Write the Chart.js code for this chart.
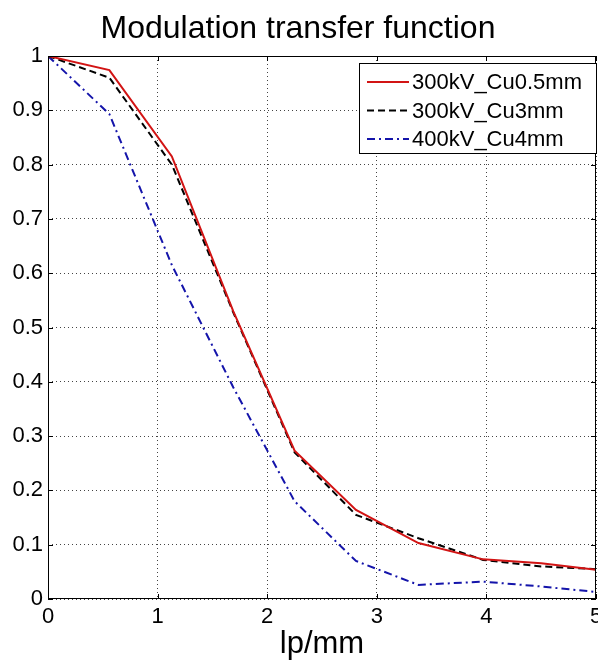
<!DOCTYPE html>
<html>
<head>
<meta charset="utf-8">
<title>Modulation transfer function</title>
<script src="https://cdn.jsdelivr.net/npm/chart.js@4/dist/chart.umd.min.js"></script>
<style>
  html, body { margin: 0; padding: 0; background: #fff; }
  #wrap { width: 598px; height: 663px; position: relative; }
</style>
</head>
<body>
<div id="wrap"><canvas id="mtf"></canvas></div>
<script>
// values (lp/mm, MTF)
const freqs = [0, 0.56, 1.13, 1.69, 2.25, 2.81, 3.38, 3.97, 4.5, 5.0];
const cu05 = [1.0, 0.974, 0.815, 0.53, 0.273, 0.164, 0.103, 0.073, 0.066, 0.054];
const cu3 = [1.0, 0.96, 0.80, 0.528, 0.27, 0.155, 0.112, 0.072, 0.06, 0.055];
const cu4 = [1.0, 0.893, 0.615, 0.39, 0.18, 0.07, 0.026, 0.032, 0.023, 0.013];
const seriesNames = ['300kV_Cu0.5mm', '300kV_Cu3mm', '400kV_Cu4mm'];
const xTicks = [0, 1, 2, 3, 4, 5];

const FONT = '"Liberation Sans", Arial, sans-serif';

function points(ys) {
  return freqs.map((x, i) => ({ x: x, y: ys[i] }));
}

function series(label, ys, color, dash) {
  return {
    label: label,
    data: points(ys),
    borderColor: color,
    borderWidth: 2,
    borderDash: dash,
    pointRadius: 0,
    tension: 0,
    fill: false
  };
}

// matlab style box, inward ticks and legend
const axesBox = {
  id: 'axesBox',
  afterDraw(chart) {
    const { ctx, chartArea: a, scales } = chart;
    ctx.save();
    ctx.strokeStyle = '#000';
    ctx.lineWidth = 1;
    ctx.setLineDash([]);
    ctx.strokeRect(a.left + 0.5, a.top + 0.5, a.right - a.left - 1, a.bottom - a.top - 1);

    const len = 5;
    ctx.beginPath();
    scales.x.ticks.forEach(t => {
      const px = Math.round(scales.x.getPixelForValue(t.value)) + 0.5;
      ctx.moveTo(px, a.bottom); ctx.lineTo(px, a.bottom - len);
      ctx.moveTo(px, a.top); ctx.lineTo(px, a.top + len);
    });
    scales.y.ticks.forEach(t => {
      const py = Math.round(scales.y.getPixelForValue(t.value)) + 0.5;
      ctx.moveTo(a.left, py); ctx.lineTo(a.left + len, py);
      ctx.moveTo(a.right, py); ctx.lineTo(a.right - len, py);
    });
    ctx.stroke();

    // legend
    const bx = a.right - 237, by = a.top + 7, bw = 238, bh = 91;
    ctx.fillStyle = '#fff';
    ctx.fillRect(bx, by, bw, bh);
    ctx.strokeStyle = '#000';
    ctx.strokeRect(bx + 0.5, by + 0.5, bw - 1, bh - 1);
    ctx.font = '22px ' + FONT;
    ctx.textBaseline = 'middle';
    ctx.textAlign = 'left';
    chart.data.datasets.forEach((ds, i) => {
      const y = by + 19 + i * 28.5;
      ctx.beginPath();
      ctx.strokeStyle = ds.borderColor;
      ctx.lineWidth = 2;
      ctx.setLineDash(ds.borderDash || []);
      ctx.moveTo(bx + 8, y);
      ctx.lineTo(bx + 50, y);
      ctx.stroke();
      ctx.setLineDash([]);
      ctx.fillStyle = '#000';
      ctx.fillText(ds.label, bx + 53, y + 1);
    });
    ctx.restore();
  }
};

new Chart(document.getElementById('mtf'), {
  type: 'line',
  data: {
    datasets: [
      series(seriesNames[0], cu05, 'rgb(210,20,20)', []),
      series(seriesNames[1], cu3, '#000', [7, 4]),
      series(seriesNames[2], cu4, 'rgb(20,20,170)', [8, 4, 2, 4])
    ]
  },
  options: {
    responsive: true,
    maintainAspectRatio: false,
    animation: false,
    devicePixelRatio: 1,
    layout: { padding: { left: 0, right: 2, top: 0, bottom: 0 } },
    plugins: {
      legend: { display: false },
      tooltip: { enabled: false },
      title: {
        display: true,
        text: 'Modulation transfer function',
        color: '#000',
        font: { family: FONT, size: 32, weight: 'normal' },
        padding: { top: 10, bottom: 7.6 }
      }
    },
    scales: {
      x: {
        type: 'linear',
        min: 0,
        max: 5,
        afterBuildTicks: s => { s.ticks = xTicks.map(v => ({ value: v })); },
        afterFit: s => { s.height = 64; s.paddingLeft = 0; s.paddingRight = 0; },
        ticks: {
          color: '#000',
          font: { family: FONT, size: 22 },
          padding: 5,
          maxRotation: 0,
          callback: v => String(v)
        },
        grid: { color: '#444', drawTicks: false, lineWidth: 1 },
        border: { display: false, dash: [1, 3] },
        title: {
          display: true,
          text: 'lp/mm',
          color: '#000',
          font: { family: FONT, size: 31 },
          padding: { top: 0, bottom: 0 }
        }
      },
      y: {
        type: 'linear',
        min: 0,
        max: 1,
        afterFit: s => { s.width = 48; s.paddingTop = 0; s.paddingBottom = 0; },
        ticks: {
          stepSize: 0.1,
          color: '#000',
          font: { family: FONT, size: 22 },
          padding: 5,
          callback: v => String(Math.round(v * 10) / 10)
        },
        grid: { color: '#444', drawTicks: false, lineWidth: 1 },
        border: { display: false, dash: [1, 3] }
      }
    }
  },
  plugins: [axesBox]
});
</script>
</body>
</html>
